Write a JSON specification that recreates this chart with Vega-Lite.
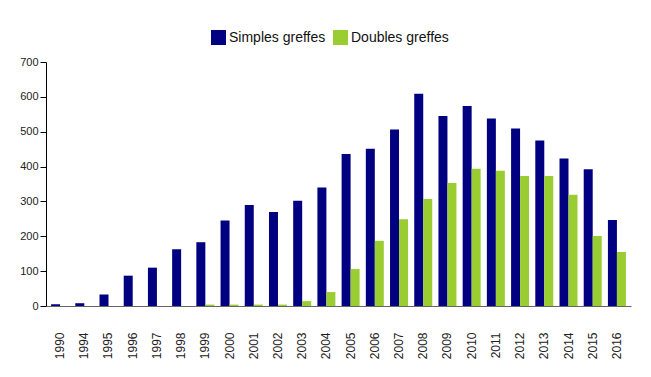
{
  "$schema": "https://vega.github.io/schema/vega-lite/v6.json",
  "width": 585,
  "height": 244,
  "autosize": "none",
  "padding": {"left": 46, "top": 62, "right": 20, "bottom": 71},
  "background": "white",
  "config": {"view": {"stroke": null}, "font": "Liberation Sans"},
  "data": {"values": [
    {"annee": "1990", "type": "Simples greffes", "n": 5},
    {"annee": "1994", "type": "Simples greffes", "n": 8},
    {"annee": "1995", "type": "Simples greffes", "n": 33},
    {"annee": "1996", "type": "Simples greffes", "n": 87},
    {"annee": "1997", "type": "Simples greffes", "n": 110},
    {"annee": "1998", "type": "Simples greffes", "n": 163},
    {"annee": "1999", "type": "Simples greffes", "n": 183},
    {"annee": "2000", "type": "Simples greffes", "n": 245},
    {"annee": "2001", "type": "Simples greffes", "n": 290},
    {"annee": "2002", "type": "Simples greffes", "n": 270},
    {"annee": "2003", "type": "Simples greffes", "n": 302},
    {"annee": "2004", "type": "Simples greffes", "n": 340},
    {"annee": "2005", "type": "Simples greffes", "n": 436},
    {"annee": "2006", "type": "Simples greffes", "n": 451},
    {"annee": "2007", "type": "Simples greffes", "n": 506},
    {"annee": "2008", "type": "Simples greffes", "n": 609},
    {"annee": "2009", "type": "Simples greffes", "n": 545},
    {"annee": "2010", "type": "Simples greffes", "n": 574},
    {"annee": "2011", "type": "Simples greffes", "n": 538},
    {"annee": "2012", "type": "Simples greffes", "n": 509},
    {"annee": "2013", "type": "Simples greffes", "n": 475},
    {"annee": "2014", "type": "Simples greffes", "n": 423},
    {"annee": "2015", "type": "Simples greffes", "n": 392},
    {"annee": "2016", "type": "Simples greffes", "n": 247},
    {"annee": "1990", "type": "Doubles greffes", "n": 0},
    {"annee": "1994", "type": "Doubles greffes", "n": 0},
    {"annee": "1995", "type": "Doubles greffes", "n": 0},
    {"annee": "1996", "type": "Doubles greffes", "n": 0},
    {"annee": "1997", "type": "Doubles greffes", "n": 0},
    {"annee": "1998", "type": "Doubles greffes", "n": 0},
    {"annee": "1999", "type": "Doubles greffes", "n": 4},
    {"annee": "2000", "type": "Doubles greffes", "n": 4},
    {"annee": "2001", "type": "Doubles greffes", "n": 4},
    {"annee": "2002", "type": "Doubles greffes", "n": 4},
    {"annee": "2003", "type": "Doubles greffes", "n": 14},
    {"annee": "2004", "type": "Doubles greffes", "n": 40},
    {"annee": "2005", "type": "Doubles greffes", "n": 106},
    {"annee": "2006", "type": "Doubles greffes", "n": 187},
    {"annee": "2007", "type": "Doubles greffes", "n": 249},
    {"annee": "2008", "type": "Doubles greffes", "n": 307},
    {"annee": "2009", "type": "Doubles greffes", "n": 353},
    {"annee": "2010", "type": "Doubles greffes", "n": 394},
    {"annee": "2011", "type": "Doubles greffes", "n": 388},
    {"annee": "2012", "type": "Doubles greffes", "n": 373},
    {"annee": "2013", "type": "Doubles greffes", "n": 373},
    {"annee": "2014", "type": "Doubles greffes", "n": 319},
    {"annee": "2015", "type": "Doubles greffes", "n": 201},
    {"annee": "2016", "type": "Doubles greffes", "n": 155}
  ]},
  "mark": {"type": "bar"},
  "encoding": {
    "x": {
      "field": "annee", "type": "nominal", "sort": null,
      "scale": {"paddingInner": 0.257, "paddingOuter": 0.21},
      "axis": {
        "title": null, "labelAngle": 270, "labelFontSize": 12, "labelColor": "#222",
        "ticks": false, "domainColor": "#666", "labelPadding": 26, "labelBaseline": "middle", "labelAlign": "right"
      }
    },
    "xOffset": {"field": "type", "type": "nominal", "sort": ["Simples greffes", "Doubles greffes"], "scale": {"paddingInner": 0, "paddingOuter": 0}},
    "y": {
      "field": "n", "type": "quantitative",
      "scale": {"domain": [0, 700], "nice": false},
      "axis": {
        "title": null, "values": [0, 100, 200, 300, 400, 500, 600, 700], "grid": false,
        "labelFontSize": 11, "labelColor": "#222", "domainColor": "#000", "tickColor": "#000",
        "tickSize": 6, "labelPadding": 2
      }
    },
    "color": {
      "field": "type", "type": "nominal",
      "scale": {"domain": ["Simples greffes", "Doubles greffes"], "range": ["#000080", "#9ACD32"]},
      "legend": {
        "title": null, "orient": "none", "legendX": 165, "legendY": -32, "direction": "horizontal", "symbolType": "square",
        "symbolSize": 225, "labelFontSize": 14, "labelColor": "#111", "columnPadding": 7,
        "symbolStrokeWidth": 0, "labelOffset": 3, "padding": 0
      }
    }
  }
}
